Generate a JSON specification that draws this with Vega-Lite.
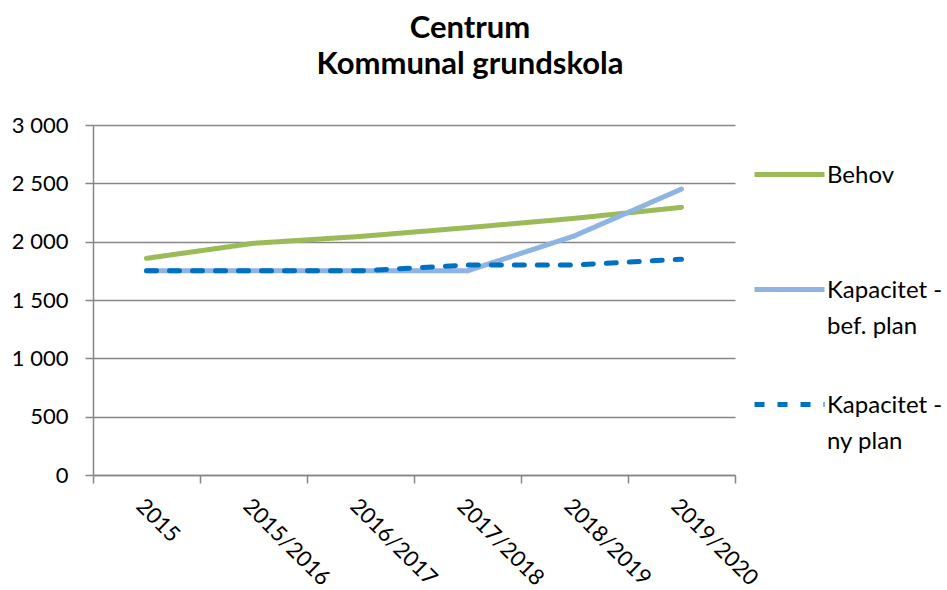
{
  "$schema": "https://vega.github.io/schema/vega-lite/v6.json",
  "width": 642,
  "height": 350,
  "autosize": {"type": "none"},
  "padding": {"left": 93, "top": 125, "right": 212, "bottom": 115},
  "background": "white",
  "title": {
    "text": ["Centrum", "Kommunal grundskola"],
    "font": "Lato",
    "fontSize": 31,
    "fontWeight": "bold",
    "color": "black",
    "anchor": "middle",
    "dx": 56,
    "lineHeight": 36,
    "offset": 33
  },
  "data": {
    "values": [
      {"year": "2015", "series": "Behov", "value": 1857},
      {"year": "2015/2016", "series": "Behov", "value": 1986},
      {"year": "2016/2017", "series": "Behov", "value": 2045},
      {"year": "2017/2018", "series": "Behov", "value": 2120},
      {"year": "2018/2019", "series": "Behov", "value": 2200},
      {"year": "2019/2020", "series": "Behov", "value": 2294},
      {"year": "2015", "series": "Kapacitet - bef. plan", "value": 1750},
      {"year": "2015/2016", "series": "Kapacitet - bef. plan", "value": 1750},
      {"year": "2016/2017", "series": "Kapacitet - bef. plan", "value": 1750},
      {"year": "2017/2018", "series": "Kapacitet - bef. plan", "value": 1750},
      {"year": "2018/2019", "series": "Kapacitet - bef. plan", "value": 2050},
      {"year": "2019/2020", "series": "Kapacitet - bef. plan", "value": 2451},
      {"year": "2015", "series": "Kapacitet - ny plan", "value": 1750},
      {"year": "2015/2016", "series": "Kapacitet - ny plan", "value": 1750},
      {"year": "2016/2017", "series": "Kapacitet - ny plan", "value": 1750},
      {"year": "2017/2018", "series": "Kapacitet - ny plan", "value": 1800},
      {"year": "2018/2019", "series": "Kapacitet - ny plan", "value": 1800},
      {"year": "2019/2020", "series": "Kapacitet - ny plan", "value": 1849}
    ]
  },
  "mark": {"type": "line", "strokeWidth": 5, "strokeCap": "round"},
  "encoding": {
    "x": {
      "field": "year",
      "type": "nominal",
      "sort": null,
      "scale": {"type": "band", "paddingInner": 0, "paddingOuter": 0},
      "axis": {
        "title": null,
        "tickBand": "extent",
        "tickSize": 8,
        "tickColor": "#868686",
        "tickWidth": 1.5,
        "domainColor": "#868686",
        "domainWidth": 1.5,
        "labelAngle": 45,
        "labelAlign": "left",
        "labelBaseline": "top",
        "labelFont": "Lato",
        "labelFontSize": 22,
        "labelColor": "black",
        "labelPadding": 12,
        "grid": false
      }
    },
    "y": {
      "field": "value",
      "type": "quantitative",
      "scale": {"domain": [0, 3000], "nice": false},
      "axis": {
        "title": null,
        "values": [0, 500, 1000, 1500, 2000, 2500, 3000],
        "labelExpr": "replace(format(datum.value, ','), ',', ' ')",
        "tickSize": 8,
        "tickColor": "#868686",
        "tickWidth": 1.5,
        "domainColor": "#868686",
        "domainWidth": 1.5,
        "gridColor": "#868686",
        "gridWidth": 1.5,
        "labelFont": "Lato",
        "labelFontSize": 22,
        "labelColor": "black",
        "labelPadding": 17
      }
    },
    "color": {
      "field": "series",
      "type": "nominal",
      "scale": {
        "domain": ["Behov", "Kapacitet - bef. plan", "Kapacitet - ny plan"],
        "range": ["#9BBB59", "#8EB4E3", "#0070C0"]
      },
      "legend": {
        "title": null,
        "orient": "none",
        "legendX": 659,
        "legendY": 12,
        "symbolType": "stroke",
        "symbolSize": 4900,
        "symbolStrokeWidth": 5,
        "labelFont": "Lato",
        "labelFontSize": 24,
        "labelColor": "black",
        "labelOffset": 0,
        "labelLimit": 200,
        "labelBaseline": "alphabetic",
        "gridAlign": "all",
        "rowPadding": 28,
        "labelExpr": "datum.label == 'Behov' ? ['Behov', ' '] : datum.label == 'Kapacitet - bef. plan' ? ['Kapacitet -', 'bef. plan'] : ['Kapacitet -', 'ny plan']",
        "encode": {"labels": {"update": {"dy": {"value": 8}, "lineHeight": {"value": 36}}}}
      }
    },
    "strokeDash": {
      "field": "series",
      "type": "nominal",
      "scale": {
        "domain": ["Behov", "Kapacitet - bef. plan", "Kapacitet - ny plan"],
        "range": [[1, 0], [1, 0], [10, 13]]
      },
      "legend": {
        "title": null,
        "orient": "none",
        "legendX": 659,
        "legendY": 12,
        "symbolType": "stroke",
        "symbolSize": 4900,
        "symbolStrokeWidth": 5,
        "labelFont": "Lato",
        "labelFontSize": 24,
        "labelColor": "black",
        "labelOffset": 0,
        "labelLimit": 200,
        "labelBaseline": "alphabetic",
        "gridAlign": "all",
        "rowPadding": 28,
        "labelExpr": "datum.label == 'Behov' ? ['Behov', ' '] : datum.label == 'Kapacitet - bef. plan' ? ['Kapacitet -', 'bef. plan'] : ['Kapacitet -', 'ny plan']",
        "encode": {"labels": {"update": {"dy": {"value": 8}, "lineHeight": {"value": 36}}}}
      }
    }
  },
  "config": {"view": {"stroke": null}}
}
